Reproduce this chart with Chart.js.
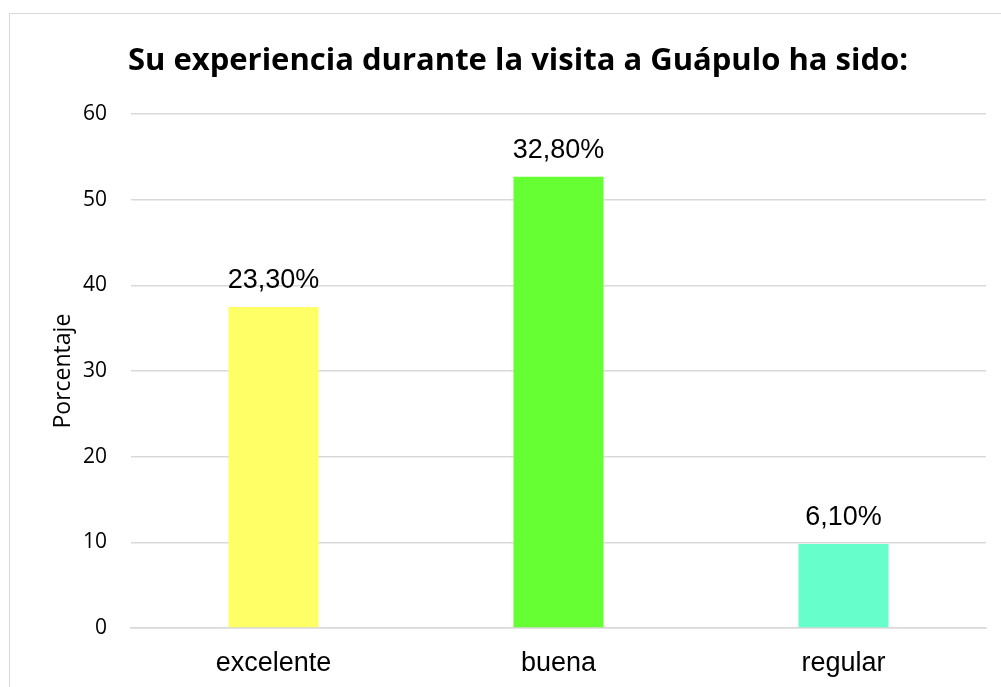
<!DOCTYPE html>
<html>
<head>
<meta charset="utf-8">
<script src="https://cdn.jsdelivr.net/npm/chart.js@4"></script>
<style>
  body { margin: 0; background: #fff; }
  #frame { position: absolute; left: 9px; top: 13px; width: 1000px; height: 700px; border: 1px solid #d9d9d9; }
  #wrap { position: absolute; left: 0; top: 0; width: 1001px; height: 687px; }
</style>
</head>
<body>
<div id="frame"></div>
<div id="wrap"><canvas id="chart"></canvas></div>
<script>
// Su experiencia durante la visita a Guápulo
const categories = ['excelente', 'buena', 'regular'];
const values = [37.5, 52.7, 9.8];
const valueLabels = ['23,30%', '32,80%', '6,10%'];
const barColors = ['#ffff66', '#66ff33', '#66ffcc'];
const yTicks = [0, 10, 20, 30, 40, 50, 60];

const barLabels = {
    id: 'barLabels',
    afterDatasetsDraw(chart) {
        const ctx = chart.ctx;
        const meta = chart.getDatasetMeta(0);
        ctx.save();
        ctx.font = "27px 'Liberation Sans', Arial, sans-serif";
        ctx.fillStyle = '#000';
        ctx.textAlign = 'center';
        ctx.textBaseline = 'bottom';
        meta.data.forEach((bar, i) => {
            ctx.fillText(valueLabels[i], bar.x, bar.y - 13);
        });
        ctx.restore();
    }
};

new Chart(document.getElementById('chart'), {
    type: 'bar',
    data: {
        labels: categories,
        datasets: [{
            data: values,
            backgroundColor: barColors,
            barPercentage: 0.316,
            categoryPercentage: 1
        }]
    },
    options: {
        responsive: true,
        maintainAspectRatio: false,
        animation: false,
        layout: { padding: { left: 50, right: 15, top: 0, bottom: 0 } },
        scales: {
            y: {
                min: 0,
                max: 60,
                afterBuildTicks: (scale) => { scale.ticks = yTicks.map(v => ({ value: v })); },
                afterFit: (scale) => { scale.width = 81; },
                grid: { color: '#d9d9d9', lineWidth: 1.5, drawTicks: false },
                border: { display: false },
                ticks: { color: '#000', padding: 24, font: { family: "'Open Sans', sans-serif", size: 21 } },
                title: { display: true, text: 'Porcentaje', color: '#000', padding: 0, font: { family: "'Open Sans', sans-serif", size: 23 } }
            },
            x: {
                afterFit: (scale) => { scale.height = 59; },
                grid: { display: false },
                border: { color: '#d9d9d9', width: 1.5 },
                ticks: { color: '#000', padding: 11, font: { family: "'Liberation Sans', Arial, sans-serif", size: 27 } }
            }
        },
        plugins: {
            legend: { display: false },
            tooltip: { enabled: false },
            title: {
                display: true,
                text: 'Su experiencia durante la visita a Guápulo ha sido:',
                color: '#000',
                padding: { top: 43, bottom: 34 },
                font: { family: "'Open Sans', sans-serif", size: 31, weight: 'bold' }
            }
        }
    },
    plugins: [barLabels]
});
</script>
</body>
</html>
